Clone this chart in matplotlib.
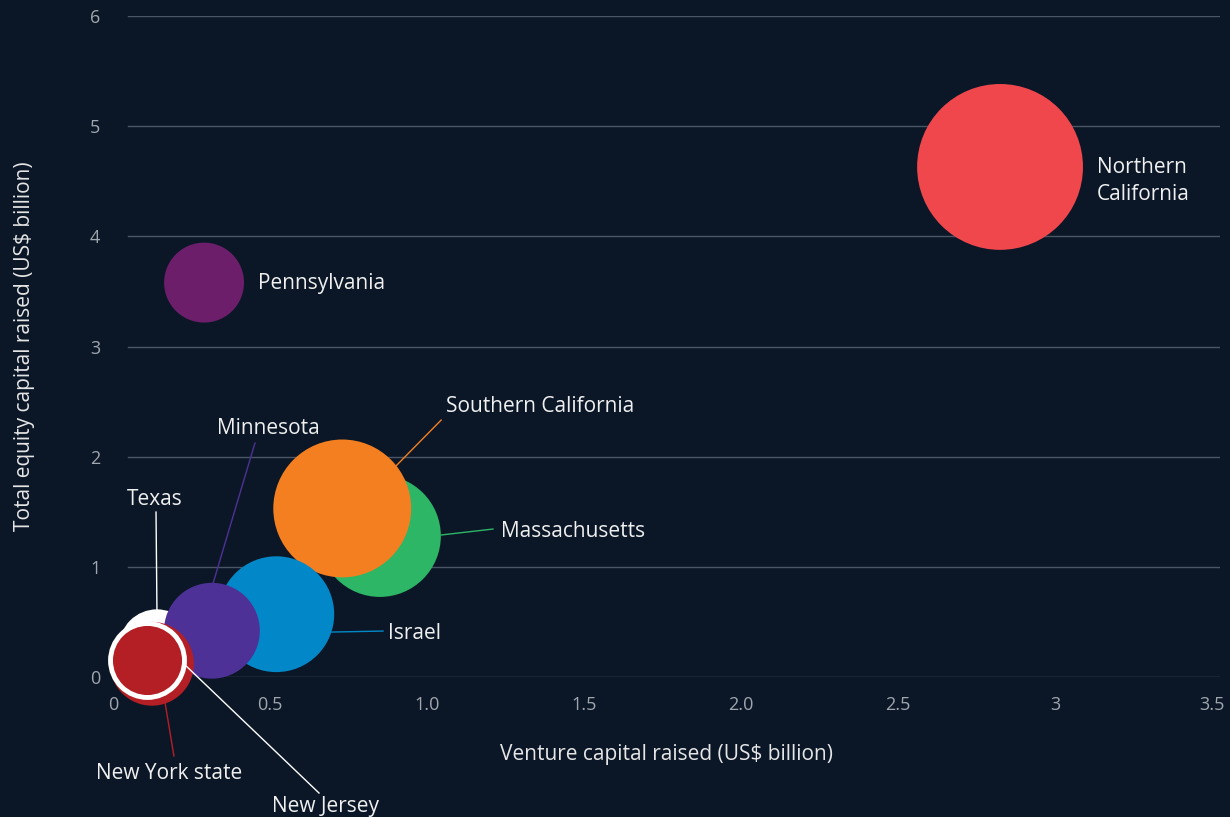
import matplotlib.pyplot as plt
import numpy as np

# data: venture capital (x), total equity (y), relative bubble size
regions = ["Northern California", "Pennsylvania", "Massachusetts", "Southern California",
           "Israel", "Texas", "Minnesota", "New York state", "New Jersey"]
venture = [2.825, 0.29, 0.85, 0.73, 0.52, 0.14, 0.315, 0.124, 0.108]
equity = [4.63, 3.58, 1.28, 1.53, 0.57, 0.27, 0.42, 0.12, 0.15]
bubble = [689, 160, 372, 476, 336, 144, 230, 176, 137]
colors = ["#f0474c", "#6d1e6b", "#2db666", "#f47f20", "#0288c8", "#ffffff",
          "#4e3196", "#b41f26", "#b41f26"]
xticks = [0, 0.5, 1.0, 1.5, 2.0, 2.5, 3, 3.5]
xtick_labels = ["0", "0.5", "1.0", "1.5", "2.0", "2.5", "3", "3.5"]
yticks = [0, 1, 2, 3, 4, 5, 6]

bg = "#0b1727"
plt.rcParams['font.family'] = ['Open Sans', 'DejaVu Sans']

fig = plt.figure(figsize=(12.3, 8.17), dpi=100, facecolor=bg)
ax = fig.add_axes([113 / 1230, 140 / 817, 1107 / 1230, 661 / 817])
ax.set_facecolor(bg)
ax.set_xlim(0, 3.5 * 1107 / 1099)
ax.set_ylim(0, 6)

for y in yticks:
    ax.axhline(y, xmin=0.0136, xmax=1, color="#4a5566", lw=1, zorder=0)

# bubbles (New Jersey gets a white ring)
for i in range(len(regions)):
    edge = "white" if regions[i] == "New Jersey" else "none"
    lw = 3.5 if regions[i] == "New Jersey" else 0
    ax.scatter(venture[i], equity[i], s=bubble[i] * 20.7, color=colors[i],
               edgecolors=edge, linewidths=lw, zorder=2 + i, clip_on=False)

txt = dict(color="#f0f0f0", fontsize=15)

ax.text(3.134, 4.50, "Northern\nCalifornia", ha="left", va="center", linespacing=1.35, **txt)
ax.text(0.462, 3.575, "Pennsylvania", ha="left", va="center", **txt)

# labels with leader lines: (name, line start, line end, text pos, ha, line colour)
leaders = [
    ("Southern California", (0.901, 1.915), (1.045, 2.332), (1.061, 2.452), "left", "#f47f20"),
    ("Massachusetts", (1.045, 1.289), (1.210, 1.343), (1.236, 1.325), "left", "#2db666"),
    ("Israel", (0.697, 0.408), (0.860, 0.417), (0.876, 0.398), "left", "#0288c8"),
    ("Minnesota", (0.318, 0.844), (0.452, 2.123), (0.494, 2.255), "center", "#4e3196"),
    ("Texas", (0.140, 0.590), (0.137, 1.497), (0.134, 1.612), "center", "#ffffff"),
    ("New York state", (0.166, -0.236), (0.194, -0.717), (0.178, -0.872), "center", "#b41f26"),
    ("New Jersey", (0.223, 0.127), (0.656, -1.053), (0.678, -1.172), "center", "#ffffff"),
]
for name, p0, p1, tp, ha, c in leaders:
    ax.plot([p0[0], p1[0]], [p0[1], p1[1]], color=c, lw=1, zorder=20, clip_on=False)
    ax.text(tp[0], tp[1], name, ha=ha, va="center", zorder=21, clip_on=False, **txt)

ax.set_xticks(xticks)
ax.set_xticklabels(xtick_labels)
ax.set_yticks(yticks)
ax.tick_params(axis="x", length=0, pad=14, colors="#a0a6ae", labelsize=13)
ax.tick_params(axis="y", length=0, pad=9, colors="#a0a6ae", labelsize=13)
for s in ax.spines.values():
    s.set_visible(False)

ax.set_xlabel("Venture capital raised (US\\$ billion)", color="#e6e6e6", fontsize=15, labelpad=21)
ax.set_ylabel("Total equity capital raised (US\\$ billion)", color="#e6e6e6", fontsize=15, labelpad=40)

fig.savefig("out.png", dpi=100, facecolor=bg)
